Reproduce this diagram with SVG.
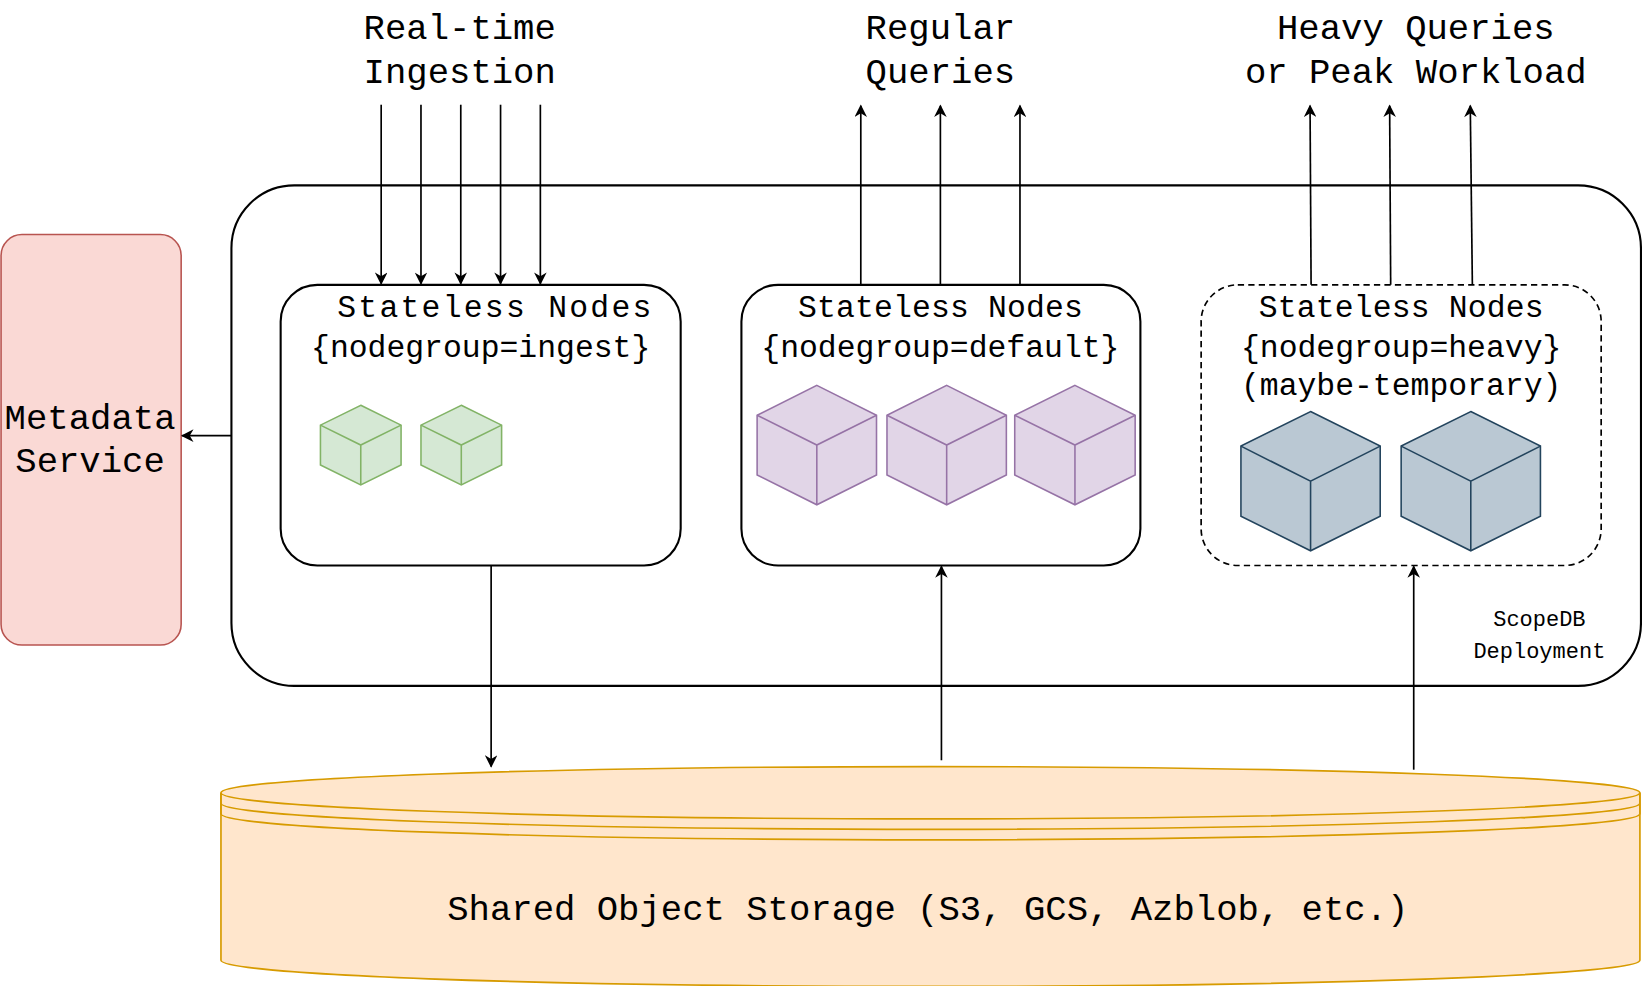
<svg xmlns="http://www.w3.org/2000/svg" width="1642" height="986" viewBox="0 0 1642 986">
<defs>
<marker id="ah" viewBox="0 0 10 10" refX="9" refY="5" markerWidth="14" markerHeight="12" orient="auto" markerUnits="userSpaceOnUse"><path d="M0,0 L10,5 L0,10 L3,5 z" fill="#000"/></marker>
<style>
text{font-family:"Liberation Mono","Courier New",monospace;fill:#000;text-anchor:middle}
.t{font-size:34px}.n{font-size:30px}.s{font-size:21px}
.c line{stroke:#000;stroke-width:1.6;fill:none}
.g{fill:#d5e8d4;stroke:#82b366;stroke-width:1.5}
.p{fill:#e1d5e7;stroke:#9673a6;stroke-width:1.5}
.b{fill:#bac8d3;stroke:#23445d;stroke-width:1.5}
.e{fill:none}
</style>
</defs>
<rect width="1642" height="986" fill="#fff"/>
<g transform="scale(1.0472)">
<g id="deployment"><rect x="221" y="177" width="1346" height="478" rx="60" fill="#fff" stroke="#000" stroke-width="2"/>
<text class="s" x="1470" y="598">ScopeDB</text><text class="s" x="1470" y="628">Deployment</text></g>
<g id="metadata"><rect x="1" y="224" width="172" height="392" rx="20" fill="#fad9d5" stroke="#b85450" stroke-width="1.5"/>
<text class="t" x="86" y="410">Metadata</text><text class="t" x="86" y="451">Service</text></g>
<g id="titles">
<text class="t" x="439" y="37">Real-time</text><text class="t" x="439" y="79">Ingestion</text>
<text class="t" x="898" y="37">Regular</text><text class="t" x="898" y="79">Queries</text>
<text class="t" x="1352" y="37">Heavy Queries</text><text class="t" x="1352" y="79">or Peak Workload</text>
</g>
<g id="ingest"><rect x="268" y="272" width="382" height="268" rx="35" fill="#fff" stroke="#000" stroke-width="2"/>
<text class="n" x="472" y="303" textLength="300">Stateless Nodes</text><text class="n" x="459" y="341">{nodegroup=ingest}</text>
<path class="g" d="M344.5,387 L383,406 L383,444 L344.5,463 L306,444 L306,406 Z"/><path class="g e" d="M306,406 L344.5,425 L383,406 M344.5,425 L344.5,463"/>
<path class="g" d="M440.5,387 L479,406 L479,444 L440.5,463 L402,444 L402,406 Z"/><path class="g e" d="M402,406 L440.5,425 L479,406 M440.5,425 L440.5,463"/>
</g>
<g id="default"><rect x="708" y="272" width="381" height="268" rx="35" fill="#fff" stroke="#000" stroke-width="2"/>
<text class="n" x="898" y="303" textLength="272">Stateless Nodes</text><text class="n" x="898" y="341">{nodegroup=default}</text>
<path class="p" d="M780,368 L837,396.5 L837,453.5 L780,482 L723,453.5 L723,396.5 Z"/><path class="p e" d="M723,396.5 L780,425 L837,396.5 M780,425 L780,482"/>
<path class="p" d="M904,368 L961,396.5 L961,453.5 L904,482 L847,453.5 L847,396.5 Z"/><path class="p e" d="M847,396.5 L904,425 L961,396.5 M904,425 L904,482"/>
<path class="p" d="M1026.5,368 L1084,396.5 L1084,453.5 L1026.5,482 L969,453.5 L969,396.5 Z"/><path class="p e" d="M969,396.5 L1026.5,425 L1084,396.5 M1026.5,425 L1026.5,482"/>
</g>
<g id="heavy"><rect x="1147" y="272" width="382" height="268" rx="35" fill="#fff" stroke="#000" stroke-width="1.6" stroke-dasharray="6 4"/>
<text class="n" x="1338" y="303" textLength="272">Stateless Nodes</text><text class="n" x="1338" y="341">{nodegroup=heavy}</text><text class="n" x="1338" y="377">(maybe-temporary)</text>
<path class="b" d="M1251.5,393 L1318,426 L1318,493 L1251.5,526 L1185,493 L1185,426 Z"/><path class="b e" d="M1185,426 L1251.5,459.5 L1318,426 M1251.5,459.5 L1251.5,526"/>
<path class="b" d="M1404.5,393 L1471,426 L1471,493 L1404.5,526 L1338,493 L1338,426 Z"/><path class="b e" d="M1338,426 L1404.5,459.5 L1471,426 M1404.5,459.5 L1404.5,526"/>
</g>
<g id="storage">
<path d="M211,757 A677.5,25 0 0 1 1566,757 L1566,917 A677.5,25 0 0 1 211,917 Z" fill="#ffe6cc" stroke="#d79b00" stroke-width="1.6"/>
<path d="M211,757 A677.5,25 0 0 0 1566,757 M211,757 L211,767 A677.5,25 0 0 0 1566,767 L1566,757 M211,767 L211,777 A677.5,25 0 0 0 1566,777 L1566,767" fill="none" stroke="#d79b00" stroke-width="1.6"/>
<text class="t" x="886" y="879">Shared Object Storage (S3, GCS, Azblob, etc.)</text>
</g>
<g id="connectors" class="c">
<line x1="221" y1="416" x2="174" y2="416" marker-end="url(#ah)"/>
<line x1="364" y1="100" x2="364" y2="271" marker-end="url(#ah)"/>
<line x1="402" y1="100" x2="402" y2="271" marker-end="url(#ah)"/>
<line x1="440" y1="100" x2="440" y2="271" marker-end="url(#ah)"/>
<line x1="478" y1="100" x2="478" y2="271" marker-end="url(#ah)"/>
<line x1="516" y1="100" x2="516" y2="271" marker-end="url(#ah)"/>
<line x1="822" y1="272" x2="822" y2="101" marker-end="url(#ah)"/>
<line x1="898" y1="272" x2="898" y2="101" marker-end="url(#ah)"/>
<line x1="974" y1="272" x2="974" y2="101" marker-end="url(#ah)"/>
<line x1="1252" y1="272" x2="1251" y2="101" marker-end="url(#ah)"/>
<line x1="1328" y1="272" x2="1327" y2="101" marker-end="url(#ah)"/>
<line x1="1406" y1="272" x2="1404" y2="101" marker-end="url(#ah)"/>
<line x1="469" y1="540" x2="469" y2="732" marker-end="url(#ah)"/>
<line x1="899" y1="726" x2="899" y2="541" marker-end="url(#ah)"/>
<line x1="1350" y1="735" x2="1350" y2="541" marker-end="url(#ah)"/>
</g>
</g>
</svg>
